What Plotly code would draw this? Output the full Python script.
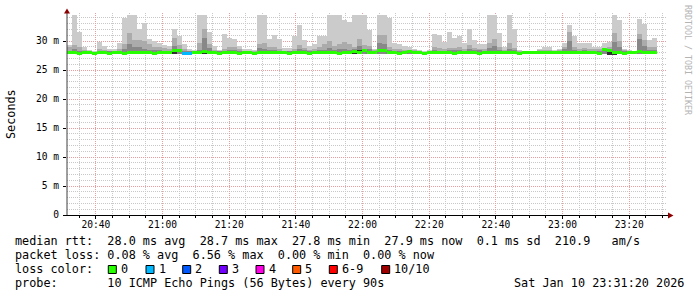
import pandas as pd
import plotly.graph_objects as go

# ---------------- data (ms) ----------------
max_ms = [29.3, 34.5, 31.6, 28.9, 28.5, 28.2, 29.9, 29.2, 28.6, 28.6,
          29.7, 34.0, 34.5, 34.5, 32.0, 33.1, 30.4, 30.0, 29.6, 29.3,
          29.1, 32.0, 30.8, 29.4, 28.6, 28.5, 34.5, 34.5, 31.5, 29.1,
          28.5, 31.2, 30.5, 30.3, 29.2, 28.6, 28.6, 28.4, 34.5, 34.5,
          30.3, 31.1, 30.3, 28.8, 28.8, 30.8, 32.8, 30.2, 29.1, 29.4,
          30.9, 30.9, 34.5, 34.5, 34.5, 33.6, 33.3, 34.5, 34.5, 34.5,
          31.9, 28.7, 34.5, 34.5, 33.9, 29.7, 29.5, 29.1, 29.0, 28.7,
          28.4, 28.2, 28.4, 31.2, 31.0, 29.9, 31.6, 30.5, 30.9, 29.6,
          32.0, 30.2, 29.4, 29.4, 34.5, 34.5, 31.4, 29.0, 34.5, 32.0,
          28.4, 28.3, 28.2, 28.2, 28.7, 29.0, 28.9, 28.4, 28.6, 29.6,
          32.8, 30.9, 29.6, 29.7, 29.7, 29.0, 29.0, 29.6, 29.9, 34.5,
          33.6, 28.7, 28.4, 28.3, 33.8, 33.0, 30.2, 30.5]

upper_ms = [28.9, 29.3, 28.9, 28.4, 28.2, 28.1, 28.6, 28.5, 28.3, 28.3,
            28.7, 29.4, 31.4, 30.2, 30.2, 30.0, 29.4, 29.0, 29.0, 28.8,
            28.6, 30.5, 29.3, 28.7, 28.3, 28.2, 29.6, 32.0, 29.4, 28.5,
            28.3, 28.6, 28.9, 28.9, 28.6, 28.3, 28.3, 28.2, 29.5, 29.6,
            28.9, 29.0, 28.7, 28.3, 28.3, 28.7, 29.3, 28.8, 28.5, 28.6,
            29.0, 29.4, 30.0, 29.2, 29.4, 29.8, 29.5, 29.0, 30.4, 29.3,
            29.2, 28.4, 31.0, 31.1, 29.0, 28.6, 28.6, 28.5, 28.5, 28.4,
            28.2, 28.1, 28.2, 28.9, 28.8, 28.6, 28.8, 28.8, 29.0, 28.7,
            29.3, 28.8, 28.7, 28.6, 29.6, 30.3, 28.9, 28.5, 29.7, 28.8,
            28.2, 28.2, 28.1, 28.1, 28.4, 28.5, 28.5, 28.2, 28.4, 29.0,
            31.5, 29.0, 28.7, 28.8, 28.7, 28.6, 28.6, 28.7, 28.9, 31.3,
            30.0, 28.4, 28.3, 28.2, 31.2, 30.2, 29.0, 28.9]

inner_ms = [28.3, 28.6, 28.3, 28.2, 28.2, 28.1, 28.3, 28.3, 28.2, 28.2,
            28.3, 28.7, 29.5, 28.9, 29.0, 28.6, 28.5, 28.4, 28.4, 28.3,
            28.3, 29.2, 28.6, 28.3, 28.2, 28.1, 28.5, 30.6, 28.8, 28.2,
            28.2, 28.3, 28.4, 28.4, 28.3, 28.2, 28.2, 28.1, 28.8, 28.6,
            28.4, 28.5, 28.3, 28.2, 28.2, 28.3, 28.6, 28.4, 28.2, 28.3,
            28.4, 28.5, 28.8, 28.5, 28.6, 28.7, 28.5, 28.6, 29.2, 28.5,
            28.6, 28.2, 29.6, 29.4, 28.5, 28.3, 28.3, 28.3, 28.4, 28.2,
            28.1, 28.1, 28.1, 28.4, 28.3, 28.3, 28.4, 28.4, 28.5, 28.3,
            28.6, 28.4, 28.4, 28.3, 28.8, 29.1, 28.4, 28.3, 28.7, 28.4,
            28.1, 28.1, 28.1, 28.1, 28.2, 28.3, 28.2, 28.1, 28.2, 28.6,
            30.0, 28.5, 28.3, 28.4, 28.3, 28.3, 28.3, 28.5, 28.6, 29.8,
            28.9, 28.2, 28.1, 28.1, 30.3, 29.2, 28.5, 28.4]

min_ms = [27.7, 27.7, 27.6, 27.7, 27.7, 27.7, 27.7, 27.7, 27.6, 27.7,
          27.7, 27.6, 27.7, 27.7, 27.7, 27.7, 27.7, 27.6, 27.7, 27.7,
          27.7, 27.8, 27.7, 27.6, 27.6, 27.7, 27.7, 27.7, 27.7, 27.7,
          27.6, 27.7, 27.7, 27.7, 27.6, 27.7, 27.7, 27.6, 27.7, 27.7,
          27.7, 27.7, 27.7, 27.7, 27.6, 27.7, 27.7, 27.7, 27.6, 27.7,
          27.7, 27.7, 27.7, 27.7, 27.6, 27.7, 27.7, 27.7, 27.7, 27.7,
          27.7, 27.7, 27.7, 27.7, 27.7, 27.7, 27.6, 27.7, 27.7, 27.7,
          27.7, 27.6, 27.7, 27.7, 27.7, 27.7, 27.7, 27.6, 27.7, 27.7,
          27.7, 27.7, 27.6, 27.7, 27.7, 27.7, 27.7, 27.7, 27.7, 27.7,
          27.6, 27.7, 27.7, 27.7, 27.7, 27.7, 27.7, 27.7, 27.7, 27.7,
          27.7, 27.7, 27.7, 27.7, 27.7, 27.7, 27.6, 27.7, 27.6, 27.6,
          27.7, 27.6, 27.7, 27.7, 27.7, 27.7, 27.7, 27.7]

median_ms = [28.0, 28.0, 27.9, 28.0, 28.0, 27.9, 28.0, 28.0, 27.9, 28.0,
             28.0, 27.9, 28.0, 28.0, 28.1, 28.0, 28.0, 27.9, 28.0, 28.0,
             28.1, 28.4, 28.3, 27.9, 27.9, 28.0, 28.0, 28.2, 28.1, 28.0,
             27.9, 28.0, 28.0, 28.0, 27.9, 28.0, 28.0, 27.9, 28.0, 28.0,
             28.0, 28.1, 28.0, 28.0, 27.9, 28.0, 28.1, 28.0, 27.9, 28.0,
             28.0, 28.1, 28.0, 28.0, 27.9, 28.0, 28.1, 28.2, 28.1, 28.3,
             28.0, 28.0, 28.3, 28.3, 28.1, 28.0, 27.9, 28.0, 28.2, 28.0,
             28.0, 27.9, 28.0, 28.0, 28.0, 28.1, 28.0, 27.9, 28.0, 28.0,
             28.0, 28.0, 27.9, 28.0, 28.0, 28.0, 28.0, 28.0, 28.0, 28.0,
             27.9, 28.0, 28.0, 28.0, 28.0, 28.0, 28.0, 28.0, 28.0, 28.1,
             28.1, 28.0, 28.0, 28.0, 28.0, 28.0, 27.9, 28.5, 28.3, 28.0,
             28.0, 27.9, 28.0, 28.0, 28.2, 28.1, 28.0, 28.0]

loss_count = [0, 0, 0, 0, 0, 0, 0, 0, 0, 0,
              0, 0, 0, 0, 0, 0, 0, 0, 0, 0,
              0, 0, 0, 1, 1, 0, 0, 0, 0, 0,
              0, 0, 0, 0, 0, 0, 0, 0, 0, 0,
              0, 0, 0, 0, 0, 0, 0, 0, 0, 0,
              0, 0, 0, 0, 0, 0, 0, 0, 0, 0,
              0, 0, 0, 0, 0, 0, 0, 0, 0, 0,
              0, 0, 0, 0, 0, 0, 0, 0, 0, 0,
              0, 0, 0, 0, 0, 0, 0, 0, 0, 0,
              0, 0, 0, 0, 0, 0, 0, 0, 0, 0,
              0, 0, 0, 0, 0, 0, 0, 0, 0, 0,
              0, 0, 0, 0, 0, 0, 0, 0]

core_steps = [21, 27, 57, 58, 108, 109]
core_top = [28.6, 28.5, 28.4, 28.4, 28.4, 28.3]

y_tick_vals = [0, 5, 10, 15, 20, 25, 30]
y_tick_text = ["0", "5 m", "10 m", "15 m", "20 m", "25 m", "30 m"]

loss_labels = ["0", "1", "2", "3", "4", "5", "6-9", "10/10"]
loss_colors = ["#26ff00", "#00b8ff", "#0059ff", "#7200ff",
               "#ff00e6", "#ff5a00", "#ff0000", "#a10000"]

legend_lines = [
    "median rtt:  28.0 ms avg  28.7 ms max  27.8 ms min  27.9 ms now  0.1 ms sd  210.9   am/s",
    "packet loss: 0.08 % avg  6.56 % max  0.00 % min  0.00 % now",
    "loss color:",
    "probe:       10 ICMP Echo Pings (56 Bytes) every 90s",
]
stamp = "Sat Jan 10 23:31:20 2026"
watermark = "RRDTOOL / TOBI OETIKER"

# ---------------- geometry ----------------
W, H = 697, 297
ML, MR, MT, MB = 67, 30, 13, 82
PW = W - ML - MR
PH = H - MT - MB
Y_TOP = 34.83

t_start = pd.Timestamp("2026-01-10 20:31:20")
t_end = pd.Timestamp("2026-01-10 23:31:20")
step_s = 90
n = len(median_ms)
times = [t_start + pd.Timedelta(seconds=step_s * (i + 0.5)) for i in range(n)]


def px(x):
    return (x - ML) / PW


def py(y):
    return (H - MB - y) / PH


def loss_color(c):
    if c <= 5:
        return loss_colors[c]
    if c < 10:
        return loss_colors[6]
    return loss_colors[7]


fig = go.Figure()
bw = step_s * 1000


def smoke(top, col):
    fig.add_bar(x=times, base=min_ms, y=[t - b for t, b in zip(top, min_ms)],
                width=bw, marker=dict(color=col, line=dict(width=0)),
                hoverinfo="skip", showlegend=False)


smoke(max_ms, "#cbcbcb")
smoke(upper_ms, "#ababab")
smoke(inner_ms, "#888888")
fig.add_bar(x=[times[i] for i in core_steps], base=[min_ms[i] for i in core_steps],
            y=[t - min_ms[i] for t, i in zip(core_top, core_steps)], width=bw,
            marker=dict(color="#303030", line=dict(width=0)), hoverinfo="skip", showlegend=False)

MED_H = 0.52
fig.add_bar(x=times, base=[m - MED_H / 2 for m in median_ms], y=[MED_H] * n, width=bw,
            marker=dict(color=[loss_color(c) for c in loss_count], line=dict(width=0)),
            hoverinfo="skip", showlegend=False)

MONO = "DejaVu Sans Mono"
PINK = "rgb(232,158,158)"
GRAY = "rgb(200,200,200)"

fig.update_layout(
    width=W, height=H, margin=dict(l=ML, r=MR, t=MT, b=MB),
    paper_bgcolor="white", plot_bgcolor="white",
    barmode="overlay", bargap=0, showlegend=False,
    font=dict(family=MONO, color="#000"),
)
fig.update_xaxes(
    type="date", range=[t_start, t_end],
    tick0="2026-01-10 20:40:00", dtick=20 * 60 * 1000, tickformat="%H:%M",
    showgrid=True, gridcolor=PINK, griddash="1px,1px", gridwidth=1,
    minor=dict(tick0="2026-01-10 20:40:00", dtick=5 * 60 * 1000, showgrid=True,
               gridcolor=GRAY, griddash="1px,1px", ticks="outside", ticklen=2, tickcolor="#000"),
    ticks="outside", ticklen=3, tickcolor="#000", ticklabelstandoff=-3,
    tickfont=dict(family=MONO, size=9.6, color="#000"),
    showline=False, zeroline=False, layer="above traces", fixedrange=True,
)
fig.update_yaxes(
    range=[0, Y_TOP], tickvals=y_tick_vals, ticktext=y_tick_text,
    showgrid=True, gridcolor=PINK, griddash="1px,1px", gridwidth=1,
    minor=dict(dtick=1, showgrid=True, gridcolor=GRAY, griddash="1px,1px"),
    ticks="outside", ticklen=3, tickcolor="#000", ticklabelstandoff=2,
    tickfont=dict(family=MONO, size=9.6, color="#000"),
    showline=False, zeroline=False, layer="above traces", fixedrange=True,
)

# axes with arrows
fig.add_shape(type="line", xref="paper", yref="paper", x0=px(67), x1=px(67), y0=py(216), y1=py(10),
              line=dict(color="#404040", width=1))
fig.add_shape(type="line", xref="paper", yref="paper", x0=px(63), x1=px(669), y0=py(215.5), y1=py(215.5),
              line=dict(color="#000", width=1))
fig.add_shape(type="path", xref="paper", yref="paper",
              path=f"M {px(64)},{py(13.5)} L {px(67)},{py(8.5)} L {px(70)},{py(13.5)} Z",
              fillcolor="#8b0000", line=dict(width=0))
fig.add_shape(type="path", xref="paper", yref="paper",
              path=f"M {px(668)},{py(212.5)} L {px(673.5)},{py(215.5)} L {px(668)},{py(218.5)} Z",
              fillcolor="#8b0000", line=dict(width=0))


def text(x, y, s, anchor="left", size=11.8, color="#000", angle=0):
    fig.add_annotation(x=px(x), y=py(y), xref="paper", yref="paper", text=s.replace(" ", "\u00a0"),
                       showarrow=False, xanchor=anchor, yanchor="middle", textangle=angle,
                       font=dict(family=MONO, size=size, color=color), borderpad=0, borderwidth=0)


LEG_X = 15
LINE_Y = [241, 255, 269, 283]
for s, y in zip(legend_lines, LINE_Y):
    text(LEG_X, y, s)
text(684, LINE_Y[3], stamp, anchor="right")

# loss colour boxes
box_x = [108.3, 146, 182.7, 219.3, 256, 292.7, 329.3, 381.7]
for bx, lab, col in zip(box_x, loss_labels, loss_colors):
    fig.add_shape(type="rect", xref="paper", yref="paper",
                  x0=px(bx), x1=px(bx + 8), y0=py(273.5), y1=py(265.5),
                  fillcolor=col, line=dict(color="#000", width=1))
    text(bx + 12.5, LINE_Y[2], lab)

text(11, 114, "Seconds", anchor="center", angle=-90)
text(688, 60, watermark, anchor="center", size=8.3, color="#b4b4b4", angle=90)

fig.write_html("out.html")
